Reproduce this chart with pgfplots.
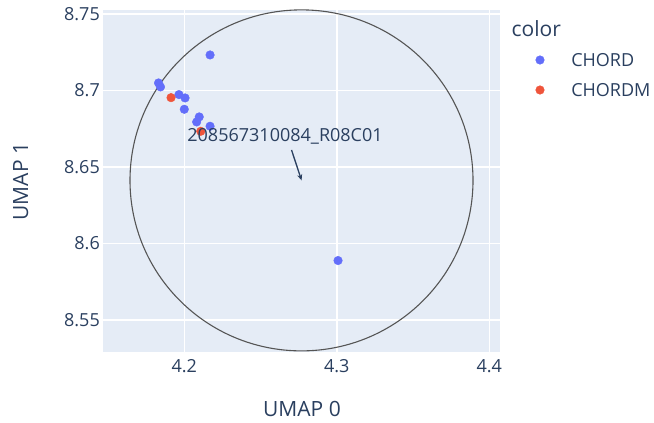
\documentclass[border=0pt]{standalone}
\usepackage{fontspec}
\setmainfont{Open Sans}
\usepackage{pgfplots}
\pgfplotsset{compat=1.18}
\usetikzlibrary{arrows.meta}
\definecolor{bgc}{HTML}{E5ECF6}
\definecolor{txt}{HTML}{2A3F5F}
\definecolor{cblue}{HTML}{636EFA}
\definecolor{cred}{HTML}{EF553B}
\definecolor{shp}{HTML}{555555}
\begin{document}
\begin{tikzpicture}
\useasboundingbox (0bp,0bp) rectangle (654bp,423bp);
\begin{axis}[
  at={(103bp,71bp)}, anchor=south west,
  scale only axis, width=397bp, height=342bp,
  xmin=4.1467, xmax=4.407, ymin=8.529, ymax=8.7526,
  axis background/.style={fill=bgc},
  axis line style={draw=none},
  major tick length=0pt,
  grid=major, grid style={white, line width=1.5bp},
  xtick={4.2,4.3,4.4}, xticklabels={4.2,4.3,4.4},
  ytick={8.55,8.6,8.65,8.7,8.75}, yticklabels={8.55,8.6,8.65,8.7,8.75},
  ticklabel style={font=\fontsize{18bp}{22bp}\selectfont, text=txt},
  xticklabel style={anchor=base, yshift=-20.7bp},
  yticklabel style={anchor=east, inner sep=0pt, xshift=-3bp},
  legend style={at={(1.0899,0.8728)}, anchor=north west, draw=none, fill=none,
    inner sep=0pt, outer sep=0pt, column sep=27bp, row sep=17bp,
    font=\fontsize{18bp}{22bp}\selectfont, text=txt,
    nodes={inner sep=0pt, text height=13bp, text depth=0pt}},
  legend cell align=left,
  legend image code/.code={\draw[#1] plot coordinates {(0bp,0bp)};},
]
\addplot[only marks, mark=*, mark size=4.3bp, color=cblue, mark options={draw=none, fill=cblue}] coordinates {
(4.1831,8.7049) (4.1844,8.7023) (4.1965,8.6973) (4.2005,8.6951) (4.2000,8.6877)
(4.2098,8.6827) (4.2081,8.6794) (4.2169,8.6766) (4.2169,8.7232) (4.3008,8.5888)
};
\addlegendentry{CHORD}
\addplot[only marks, mark=*, mark size=4.3bp, color=cred, mark options={draw=none, fill=cred}] coordinates {
(4.1913,8.6953) (4.2108,8.6733)
};
\addlegendentry{CHORDM}
\draw[shp, line width=1.1bp] (axis cs:4.27685,8.6412) ellipse [x radius=171.5bp, y radius=170.5bp];
\draw[txt, line width=1.3bp, -{Stealth[length=6bp,width=5bp]}] (axis cs:4.2703,8.6611) -- (axis cs:4.2769,8.6412);
\end{axis}
\node[font=\fontsize{18bp}{22bp}\selectfont, text=txt, anchor=base, inner sep=0pt] at (285bp,281.3bp) {208567310084\_R08C01};
\node[font=\fontsize{21bp}{25bp}\selectfont, text=txt, anchor=base, inner sep=0pt] at (302bp,7bp) {UMAP 0};
\node[font=\fontsize{21bp}{25bp}\selectfont, text=txt, anchor=base, inner sep=0pt, rotate=90] at (28bp,241.3bp) {UMAP 1};
\node[font=\fontsize{21bp}{25bp}\selectfont, text=txt, anchor=base west, inner sep=0pt] at (511.5bp,386bp) {color};
\end{tikzpicture}
\end{document}
